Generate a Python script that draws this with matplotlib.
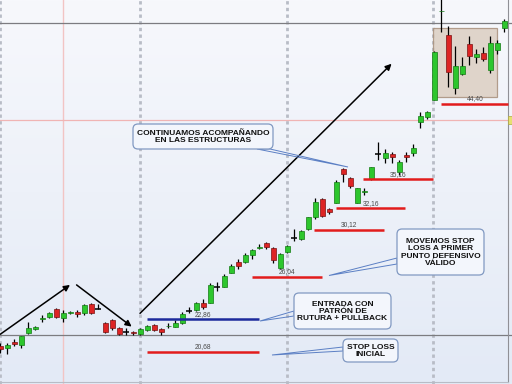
import matplotlib
matplotlib.use('Agg')
import matplotlib.pyplot as plt
from matplotlib.patches import FancyBboxPatch, Polygon, Rectangle
from matplotlib.lines import Line2D
from matplotlib.transforms import Affine2D
from matplotlib.colors import LinearSegmentedColormap
import numpy as np

# daily candles (price)
opens = [21.07, 20.94, 21.33, 21.13, 21.91, 22.22, 22.87, 23.01, 23.58, 22.94,
         23.29, 23.41, 23.29, 23.95, 23.60, 22.63, 22.82, 22.25, 22.01, 22.01,
         21.86, 22.13, 22.47, 22.18, 22.37, 22.36, 22.59, 23.46, 23.53, 24.07,
         24.07, 25.29, 25.29, 26.39, 27.31, 27.31, 27.87, 28.45, 28.89, 28.52,
         26.75, 28.16, 29.37, 29.25, 30.17, 31.30, 33.08, 32.11, 32.74, 36.28,
         35.29, 32.74, 33.88, 35.18, 38.03, 37.57, 38.03, 35.98, 37.91, 38.18,
         42.00, 42.58, 44.91, 58.98, 54.85, 46.55, 48.64, 53.34, 51.21, 51.84,
         49.25, 52.37, 55.99]
closes = [20.85, 21.13, 21.18, 21.72, 22.29, 22.36, 22.98, 23.29, 23.05, 23.29,
          23.41, 23.22, 23.90, 23.34, 23.60, 22.01, 22.25, 21.86, 22.01, 21.94,
          22.18, 22.40, 22.13, 22.01, 22.40, 22.63, 23.24, 23.46, 24.02, 23.77,
          25.42, 25.29, 26.13, 26.95, 26.95, 27.87, 28.30, 28.59, 28.59, 27.45,
          27.95, 28.65, 29.37, 30.03, 31.30, 32.84, 31.42, 31.79, 34.93, 35.76,
          34.46, 34.22, 33.93, 36.51, 38.03, 38.18, 37.64, 37.15, 37.68, 38.70,
          42.68, 43.31, 52.10, 59.10, 48.99, 49.86, 49.86, 51.41, 51.68, 51.00,
          53.56, 53.46, 57.27]
highs = [21.26, 21.28, 21.51, 21.75, 22.70, 22.40, 23.17, 23.36, 23.66, 23.53,
         23.46, 23.53, 23.97, 24.02, 23.95, 22.70, 22.87, 22.32, 22.25, 22.06,
         22.25, 22.47, 22.54, 22.25, 22.59, 22.82, 23.41, 23.73, 24.14, 24.32,
         25.55, 25.68, 26.29, 27.11, 27.51, 28.07, 28.36, 28.80, 29.04, 28.59,
         28.01, 28.74, 30.17, 30.10, 31.36, 33.18, 33.18, 32.24, 35.11, 36.39,
         35.40, 34.28, 34.28, 36.54, 39.50, 38.58, 38.30, 37.34, 38.30, 39.22,
         43.23, 43.45, 52.13, 62.99, 56.39, 53.02, 51.30, 54.68, 52.48, 52.90,
         54.68, 54.01, 57.56]
lows = [20.62, 20.55, 21.07, 20.96, 21.84, 22.13, 22.70, 22.94, 22.94, 22.70,
        23.22, 23.05, 23.17, 23.22, 23.57, 21.91, 22.13, 21.79, 21.79, 21.79,
        21.79, 22.08, 22.08, 21.79, 22.25, 22.32, 22.54, 23.34, 23.48, 23.58,
        24.05, 24.97, 25.26, 26.34, 26.67, 27.22, 27.51, 28.36, 28.36, 27.22,
        26.72, 28.07, 29.10, 29.23, 30.10, 31.11, 31.36, 31.62, 32.68, 34.93,
        34.22, 32.71, 33.52, 35.14, 37.34, 36.96, 36.96, 35.65, 37.15, 37.85,
        41.16, 42.31, 44.91, 55.41, 46.78, 45.74, 48.49, 50.01, 50.37, 50.68,
        48.84, 51.73, 55.41]

# entry and trailing stops
entry_level = 22.86
entry_label = '22,86'
entry_span = (21.0, 37.0)
stop_levels = [20.68, 26.04, 30.12, 32.16, 35.16, 44.40]
stop_labels = ['20,68', '26,04', '30,12', '32,16', '35,16', '44,40']
stop_start = [21.0, 36.0, 44.8, 48.0, 51.8, 63.0]
stop_end = [37.0, 46.0, 54.8, 57.8, 61.8, 72.6]

# reference lines of the platform
gray_levels = [56.86, 21.77]
pink_level = 42.22
pink_bar = 8.96
separators = [0.03, 19.96, 40.9, 61.85]
range_box = (61.85, 70.9, 45.37, 55.99)   # x0, x1, low, high

W, H = 512, 384
fig = plt.figure(figsize=(W / 100, H / 100), dpi=100)

bg = fig.add_axes([0, 0, 1, 1])
grad = np.linspace(0, 1, 256).reshape(-1, 1)
bg.imshow(grad, aspect='auto',
          cmap=LinearSegmentedColormap.from_list('bg', ['#f7f8fc', '#e3eaf6']))
bg.set_axis_off()

ax = fig.add_axes([0, 0, 1, 1], facecolor='none')
ax.set_yscale('log')
ax.set_xlim(-0.04, 73.1)
ax.set_ylim(18.74, 61.08)
ax.set_axis_off()

pix = Affine2D().scale(1, -1).translate(0, H)

# grid / platform lines
for s in separators:
    ax.axvline(s, color='#b8bcc6', lw=2, ls=(0, (1.2, 1.2)), zorder=1)
ax.axvline(pink_bar, color='#f2c4c4', lw=1, zorder=1)
ax.axhline(pink_level, color='#f0b4b4', lw=0.9, zorder=1)
for g in gray_levels:
    ax.axhline(g, color='#7c7c80', lw=0.9, zorder=1)

# consolidation box
x0, x1, lo, hi = range_box
ax.add_patch(Rectangle((x0, lo), x1 - x0, hi - lo, facecolor='#dccfc2',
                       edgecolor='#a8907c', lw=0.9, alpha=0.85, zorder=1.5))

o = np.array(opens)
c = np.array(closes)
idx = np.arange(len(o))
up = c > o
down = c < o
doji = c == o

ax.vlines(idx, lows, highs, colors='black', lw=0.9, zorder=2)
ax.bar(idx[up], (c - o)[up], bottom=o[up], width=0.72, color='#2dc62d',
       edgecolor='#137a13', lw=0.5, zorder=3)
ax.bar(idx[down], (o - c)[down], bottom=c[down], width=0.72, color='#dd2424',
       edgecolor='#7a1212', lw=0.5, zorder=3)
ax.hlines(c[doji], idx[doji] - 0.42, idx[doji] + 0.42, colors='black', lw=1.1, zorder=3)

# stop lines
for lvl, lab, a, b in zip(stop_levels, stop_labels, stop_start, stop_end):
    ax.hlines(lvl, a, b, colors='#e21c1c', lw=1.8, zorder=4)
    ax.annotate(lab, xy=((a + b) / 2, lvl), xytext=(0, 1.2), textcoords='offset points',
                ha='center', va='bottom', fontsize=4.8, color='#4a4a4a',
                family='Liberation Sans', zorder=4)
ax.hlines(entry_level, *entry_span, colors='#1c2a9c', lw=1.8, zorder=4)
ax.annotate(entry_label, xy=(sum(entry_span) / 2, entry_level), xytext=(0, 1.2),
            textcoords='offset points', ha='center', va='bottom', fontsize=4.8,
            color='#4a4a4a', family='Liberation Sans', zorder=4)

# trend arrows
arrow = dict(arrowstyle='-|>', color='black', lw=1.1, mutation_scale=9,
             shrinkA=0, shrinkB=0)
ax.annotate('', xy=(9.96, 25.42), xytext=(0.0, 21.84), arrowprops=arrow, zorder=5)
ax.annotate('', xy=(18.77, 22.36), xytext=(10.9, 25.42), arrowprops=arrow, zorder=5)
ax.annotate('', xy=(55.9, 50.2), xytext=(19.96, 23.29), arrowprops=arrow, zorder=5)

# callouts (pixel layout, origin top-left)
callouts = [
    ("CONTINUAMOS ACOMPAÑANDO\nEN LAS ESTRUCTURAS", (133, 124, 140, 25),
     [(257, 149), (270, 149), (348, 167)]),
    ("MOVEMOS STOP\nLOSS A PRIMER\nPUNTO DEFENSIVO\nVÁLIDO", (397, 229, 87, 46),
     [(397, 258), (397, 264), (329, 275.5)]),
    ("ENTRADA CON\nPATRÓN DE\nRUTURA + PULLBACK", (294, 293, 97, 36),
     [(294, 311), (294, 316), (260, 321)]),
    ("STOP LOSS\nINICIAL", (343, 339, 55, 23),
     [(343, 347), (343, 351), (272, 355)]),
]
for txt, (x, y, w, h), wedge in callouts:
    ax.add_patch(Polygon(wedge, closed=True, fill=False, edgecolor='#5b7fc4',
                         lw=0.7, transform=pix, zorder=6))
    ax.add_patch(FancyBboxPatch((x, y), w, h, boxstyle='round,pad=0,rounding_size=5',
                                facecolor='#f3f6fc', edgecolor='#8199c2', lw=0.9,
                                transform=pix, zorder=7))
    ax.text(x + w / 2, y + h / 2 + 0.5, txt, transform=pix, ha='center', va='center',
            fontsize=6, fontweight='bold', family='Liberation Sans', color='#111111',
            linespacing=1.05, zorder=8)

# frame of the price panel
ax.add_line(Line2D([508.3, 508.3], [0, 382], transform=pix, color='#909096', lw=0.8, zorder=2))
ax.add_line(Line2D([0, 508.3], [381.7, 381.7], transform=pix, color='#b8bcc6', lw=0.8, zorder=2))
ax.add_patch(Rectangle((507.5, 116), 5, 8, transform=pix, facecolor='#e6e070',
                       edgecolor='#b0a840', lw=0.5, zorder=6))

fig.savefig('out.png', dpi=100)
